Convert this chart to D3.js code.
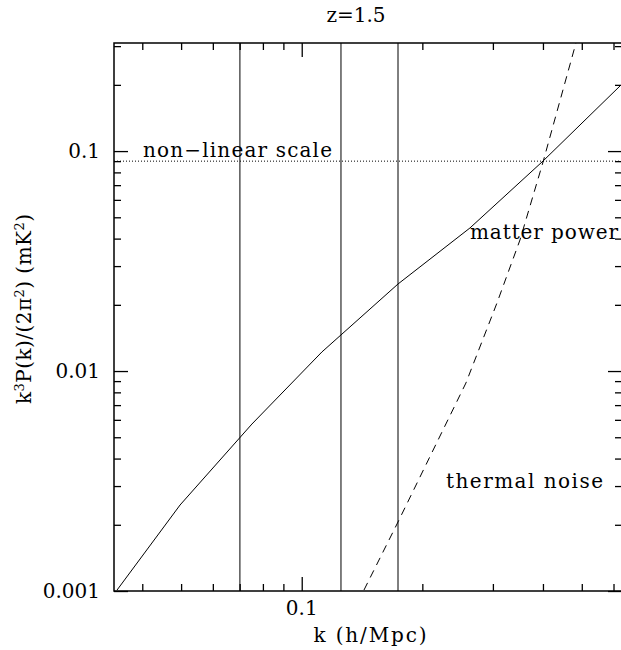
<!DOCTYPE html>
<html>
<head>
<meta charset="utf-8">
<script src="https://cdn.jsdelivr.net/npm/d3@7"></script>
<style>
  body { margin: 0; background: #fff; }
  text { font-family: "DejaVu Serif", serif; font-size: 20px; fill: #000; }
</style>
</head>
<body>
<div id="chart"></div>
<script>
const margin = { top: 43, right: -1, bottom: 59, left: 114 };
const W = 621, H = 650;
const width = W - margin.left - margin.right;
const height = H - margin.top - margin.bottom;

// matter power spectrum k^3 P(k)/(2 pi^2)
const matterK = [0.0346, 0.0497, 0.0751, 0.1123, 0.1739, 0.2629, 0.4002, 0.6264];
const matterP = [0.00101, 0.00246, 0.00574, 0.01221, 0.02487, 0.0447, 0.0901, 0.1997];

// thermal noise
const noiseK = [0.143, 0.1739, 0.2569, 0.3071, 0.3505, 0.4002, 0.4835];
const noiseP = [0.00101, 0.00206, 0.00882, 0.02039, 0.03942, 0.0892, 0.31];

// vertical markers and non-linear level
const markerK = [0.0701, 0.1253, 0.1739];
const nonLinearP = 0.09;

const xMajor = [0.1];
const xMinor = [0.04, 0.05, 0.06, 0.07, 0.08, 0.09, 0.2, 0.3, 0.4, 0.5, 0.6];
const yMajor = [0.001, 0.01, 0.1];
const yMinor = [0.002, 0.003, 0.004, 0.005, 0.006, 0.007, 0.008, 0.009,
                0.02, 0.03, 0.04, 0.05, 0.06, 0.07, 0.08, 0.09, 0.2, 0.3];
const yLabels = ["0.001", "0.01", "0.1"];
const xLabels = ["0.1"];

const svg = d3.select("#chart")
    .append("svg")
    .attr("width", W)
    .attr("height", H)
    .append("g")
    .attr("transform", `translate(${margin.left},${margin.top})`);

const x = d3.scaleLog()
    .domain([0.034, 0.63])
    .range([0, width]);

const y = d3.scaleLog()
    .domain([0.001, 0.31])
    .range([height, 0]);

svg.append("clipPath")
    .attr("id", "plot-clip")
    .append("rect")
    .attr("width", width)
    .attr("height", height);

const plot = svg.append("g").attr("clip-path", "url(#plot-clip)");

// ticks pointing inward on all four sides
function ticks(axisFn, values, size, transform) {
    svg.append("g")
        .attr("transform", transform)
        .call(axisFn.tickValues(values).tickSize(size).tickFormat(""))
        .call(g => g.select(".domain").remove())
        .call(g => g.selectAll("line").attr("stroke", "#000").attr("stroke-width", 1.3));
}
ticks(d3.axisTop(x), xMajor, 14, `translate(0,${height})`);
ticks(d3.axisTop(x), xMinor, 7, `translate(0,${height})`);
ticks(d3.axisBottom(x), xMajor, 14, "translate(0,0)");
ticks(d3.axisBottom(x), xMinor, 7, "translate(0,0)");
ticks(d3.axisRight(y), yMajor, 14, "translate(0,0)");
ticks(d3.axisRight(y), yMinor, 7, "translate(0,0)");
ticks(d3.axisLeft(y), yMajor, 14, `translate(${width},0)`);
ticks(d3.axisLeft(y), yMinor, 7, `translate(${width},0)`);

svg.append("rect")
    .attr("width", width)
    .attr("height", height)
    .attr("fill", "none")
    .attr("stroke", "#000")
    .attr("stroke-width", 1.5);

// vertical markers
plot.selectAll(".marker")
    .data(markerK)
    .enter()
    .append("line")
    .attr("class", "marker")
    .attr("x1", d => x(d))
    .attr("x2", d => x(d))
    .attr("y1", 0)
    .attr("y2", height)
    .attr("stroke", "#000")
    .attr("stroke-width", 1);

// non-linear scale
plot.append("line")
    .attr("x1", 0)
    .attr("x2", width)
    .attr("y1", y(nonLinearP))
    .attr("y2", y(nonLinearP))
    .attr("stroke", "#000")
    .attr("stroke-width", 1)
    .attr("stroke-dasharray", "1,2");

const line = d3.line()
    .x(d => x(d[0]))
    .y(d => y(d[1]));

plot.append("path")
    .datum(d3.zip(matterK, matterP))
    .attr("d", line)
    .attr("fill", "none")
    .attr("stroke", "#000")
    .attr("stroke-width", 1);

plot.append("path")
    .datum(d3.zip(noiseK, noiseP))
    .attr("d", line)
    .attr("fill", "none")
    .attr("stroke", "#000")
    .attr("stroke-width", 1)
    .attr("stroke-dasharray", "8,6");

// tick labels
svg.selectAll(".ylabel")
    .data(yMajor)
    .enter()
    .append("text")
    .attr("x", -14)
    .attr("y", d => y(d))
    .attr("dy", "0.35em")
    .attr("text-anchor", "end")
    .text((d, i) => yLabels[i]);

svg.selectAll(".xlabel")
    .data(xMajor)
    .enter()
    .append("text")
    .attr("x", d => x(d))
    .attr("y", height + 24)
    .attr("text-anchor", "middle")
    .text((d, i) => xLabels[i]);

// titles
svg.append("text")
    .attr("x", 242)
    .attr("y", -21)
    .attr("text-anchor", "middle")
    .text("z=1.5");

svg.append("text")
    .attr("x", 256)
    .attr("y", height + 51)
    .attr("text-anchor", "middle")
    .attr("textLength", 113)
    .attr("lengthAdjust", "spacing")
    .text("k (h/Mpc)");

svg.append("text")
    .attr("transform", "rotate(-90)")
    .attr("x", -(309 - margin.top))
    .attr("y", 31 - margin.left)
    .attr("text-anchor", "middle")
    .attr("textLength", 190)
    .attr("lengthAdjust", "spacing")
    .html("k<tspan dy='-7' font-size='13'>3</tspan><tspan dy='7'>P(k)/(2π</tspan><tspan dy='-7' font-size='13'>2</tspan><tspan dy='7'>) (mK</tspan><tspan dy='-7' font-size='13'>2</tspan><tspan dy='7'>)</tspan>");

// annotations
svg.append("text")
    .attr("x", 143 - margin.left)
    .attr("y", 157 - margin.top)
    .attr("textLength", 189)
    .attr("lengthAdjust", "spacing")
    .text("non\u2212linear scale");

svg.append("text")
    .attr("x", 470 - margin.left)
    .attr("y", 239 - margin.top)
    .attr("textLength", 148)
    .attr("lengthAdjust", "spacing")
    .text("matter power");

svg.append("text")
    .attr("x", 446 - margin.left)
    .attr("y", 488 - margin.top)
    .attr("textLength", 157)
    .attr("lengthAdjust", "spacing")
    .text("thermal noise");
</script>
</body>
</html>
